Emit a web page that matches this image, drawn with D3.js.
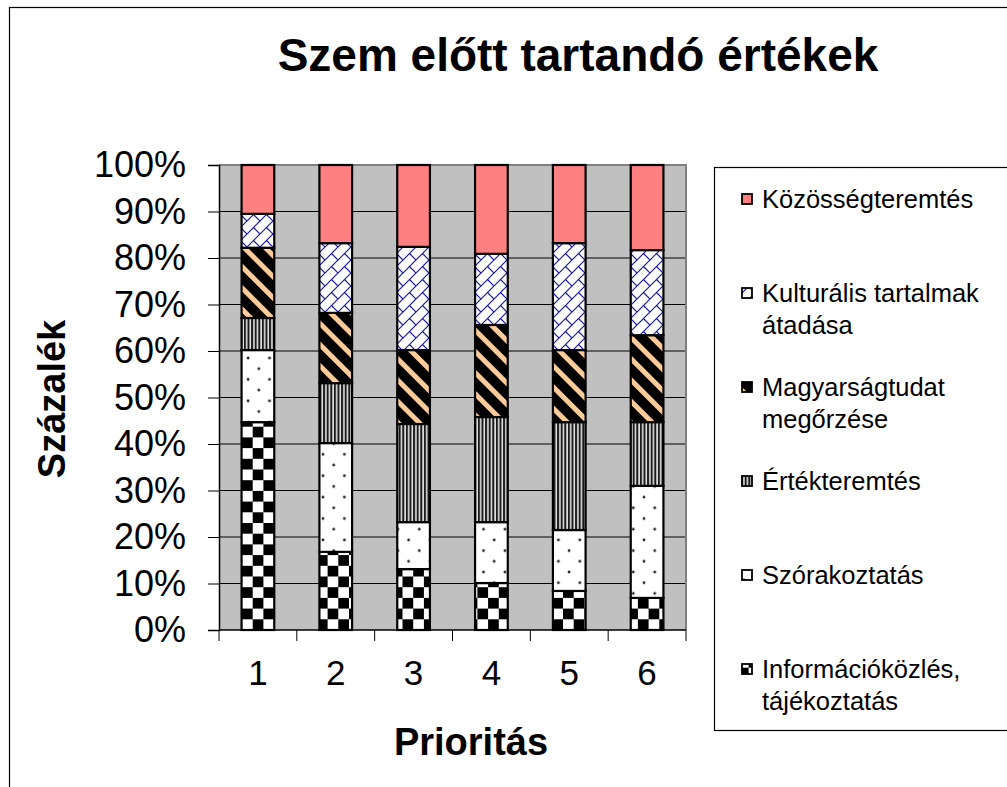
<!DOCTYPE html>
<html>
<head>
<meta charset="utf-8">
<script src="https://cdn.jsdelivr.net/npm/d3@7"></script>
<style>
html,body{margin:0;padding:0;background:#fff;}
svg{display:block;}
text{font-family:"Liberation Sans",Arial,sans-serif;}
</style>
</head>
<body>
<svg id="chart" width="1007" height="787"></svg>
<script>
// ---- data ----
const categories = ["1","2","3","4","5","6"];
const seriesNames = ["Információközlés, tájékoztatás","Szórakoztatás","Értékteremtés","Magyarságtudat megőrzése","Kulturális tartalmak átadása","Közösségteremtés"];
const informacio = [44.7,16.8,13.1,10.1,8.4,6.9];
const szorakoztatas = [15.5,23.4,10.1,13.1,13.1,24.1];
const ertekteremtes = [6.9,12.9,21.1,22.6,23.2,13.7];
const magyarsag = [15.1,15.1,15.9,19.8,15.5,18.7];
const kulturalis = [7.3,15.0,22.2,15.3,23.0,18.3];
const kozosseg = [10.5,16.8,17.6,19.1,16.8,18.3];
const yTicks = [0,0.1,0.2,0.3,0.4,0.5,0.6,0.7,0.8,0.9,1.0];
const legendLines = [["Közösségteremtés"],["Kulturális tartalmak","átadása"],["Magyarságtudat","megőrzése"],["Értékteremtés"],["Szórakoztatás"],["Információközlés,","tájékoztatás"]];
const legendOrder = [5,4,3,2,1,0];

const seriesValues = [informacio,szorakoztatas,ertekteremtes,magyarsag,kulturalis,kozosseg];
const keys = seriesNames;
const rows = categories.map((c,i)=>{const o={cat:c}; keys.forEach((k,j)=>o[k]=seriesValues[j][i]); return o;});

const svg = d3.select("#chart");
const defs = svg.append("defs");

// patterns
const patIds = ["p-info","p-szor","p-ert","p-magy","p-kult","p-koz"];
// checkerboard
(function(){
  const s=10.7;
  const p=defs.append("pattern").attr("id","p-info").attr("patternUnits","userSpaceOnUse").attr("width",2*s).attr("height",2*s).attr("x",242).attr("y",630);
  p.append("rect").attr("width",2*s).attr("height",2*s).attr("fill","#fff");
  p.append("rect").attr("x",0).attr("y",0).attr("width",s).attr("height",s).attr("fill","#000");
  p.append("rect").attr("x",s).attr("y",s).attr("width",s).attr("height",s).attr("fill","#000");
})();
// dots
(function(){
  const s=21.4;
  const p=defs.append("pattern").attr("id","p-szor").attr("patternUnits","userSpaceOnUse").attr("width",s).attr("height",s).attr("x",0).attr("y",3);
  p.append("rect").attr("width",s).attr("height",s).attr("fill","#fff");
  p.append("circle").attr("cx",2).attr("cy",2).attr("r",1.4).attr("fill","#222");
  p.append("circle").attr("cx",2+s/2).attr("cy",2+s/2).attr("r",1.4).attr("fill","#222");
})();
// vertical stripes
(function(){
  const w=3.6;
  const p=defs.append("pattern").attr("id","p-ert").attr("patternUnits","userSpaceOnUse").attr("width",w).attr("height",10);
  p.append("rect").attr("width",w).attr("height",10).attr("fill","#1a1a1a");
  p.append("rect").attr("x",1.2).attr("width",1.4).attr("height",10).attr("fill","#fff");
})();
// diagonal stripes black/orange
(function(){
  const s=15;
  const p=defs.append("pattern").attr("id","p-magy").attr("patternUnits","userSpaceOnUse").attr("width",s).attr("height",s).attr("patternTransform","rotate(45)");
  p.append("rect").attr("width",s).attr("height",s).attr("fill","#000");
  p.append("rect").attr("x",0).attr("y",0).attr("width",s).attr("height",5).attr("fill","#FFCC99");
})();
// diagonal brick
(function(){
  const s=13;
  const p=defs.append("pattern").attr("id","p-kult").attr("patternUnits","userSpaceOnUse").attr("width",s).attr("height",s);
  p.append("rect").attr("width",s).attr("height",s).attr("fill","#fff");
  p.append("path").attr("d",`M-1,${s+1} L${s+1},-1 M${s/2},${s/2} L${s},${s} M-1,1 L1,-1 M${s-1},${s+1} L${s+1},${s-1}`).attr("stroke","#1a1aa0").attr("stroke-width",1.2).attr("fill","none");
})();
defs.append("pattern").attr("id","p-koz").attr("patternUnits","userSpaceOnUse").attr("width",4).attr("height",4)
  .append("rect").attr("width",4).attr("height",4).attr("fill","#FF8080");

// outer chart border
svg.append("rect").attr("x",9.5).attr("y",7.5).attr("width",1100).attr("height",900).attr("fill","none").attr("stroke","#000").attr("stroke-width",1.2);

// plot geometry
const L=219, R=686, T=165, B=630;
const x = d3.scaleBand().domain(categories).range([L,R]).paddingInner(0.58).paddingOuter(0.29);
const xCat = d3.scaleBand().domain(categories).range([L,R]).padding(0);
const y = d3.scaleLinear().domain([0,1]).range([B,T]);

// plot area background
svg.append("rect").attr("x",L).attr("y",T).attr("width",R-L).attr("height",B-T).attr("fill","#C0C0C0");
// gridlines
svg.append("g").selectAll("line").data(yTicks.filter(d=>d>0 && d<1)).join("line")
  .attr("x1",L).attr("x2",R).attr("y1",d=>y(d)).attr("y2",d=>y(d)).attr("stroke","#000").attr("stroke-width",1);
// plot border top/right
svg.append("path").attr("d",`M${L},${T} L${R},${T} L${R},${B}`).attr("fill","none").attr("stroke","#808080").attr("stroke-width",2);

// stacked bars
const stack = d3.stack().keys(keys).offset(d3.stackOffsetExpand);
const stacked = stack(rows);
const layers = svg.append("g").selectAll("g").data(stacked).join("g")
  .attr("fill",(d,i)=>`url(#${patIds[i]})`);
layers.selectAll("rect").data(d=>d).join("rect")
  .attr("x",d=>x(d.data.cat))
  .attr("width",x.bandwidth())
  .attr("y",d=>y(d[1]))
  .attr("height",d=>y(d[0])-y(d[1]))
  .attr("stroke","#000").attr("stroke-width",2.2);

// y axis
const yAxis = d3.axisLeft(y).tickValues(yTicks).tickFormat(d3.format(".0%")).tickSize(11).tickPadding(22);
const gy = svg.append("g").attr("transform",`translate(${L},0)`).call(yAxis);
gy.select(".domain").attr("stroke","#000").attr("stroke-width",1.5);
gy.selectAll(".tick line").attr("stroke","#000");
gy.selectAll("text").attr("font-size",36).attr("fill","#000").attr("font-family","Liberation Sans, Arial, sans-serif");

// x axis
const xAxis = d3.axisBottom(x).tickSize(0).tickPadding(30);
const gx = svg.append("g").attr("transform",`translate(0,${B})`).call(xAxis);
gx.select(".domain").remove();
gx.selectAll("text").attr("font-size",35).attr("fill","#000").attr("font-family","Liberation Sans, Arial, sans-serif");
svg.append("line").attr("x1",L).attr("x2",R).attr("y1",B).attr("y2",B).attr("stroke","#000").attr("stroke-width",1.5);
svg.append("g").selectAll("line").data(categories.concat(["end"])).join("line")
  .attr("x1",(d,i)=> i<categories.length ? xCat(d) : R)
  .attr("x2",(d,i)=> i<categories.length ? xCat(d) : R)
  .attr("y1",B).attr("y2",B+11).attr("stroke","#000").attr("stroke-width",1);

// titles
svg.append("text").attr("x",578).attr("y",71).attr("text-anchor","middle").attr("font-size",46).attr("font-weight","bold").text("Szem előtt tartandó értékek");
svg.append("text").attr("x",471).attr("y",755).attr("text-anchor","middle").attr("font-size",38).attr("font-weight","bold").text("Prioritás");
svg.append("text").attr("transform","translate(65,399) rotate(-90)").attr("text-anchor","middle").attr("font-size",38).attr("font-weight","bold").text("Százalék");

// legend
svg.append("rect").attr("x",714.5).attr("y",167.5).attr("width",400).attr("height",563).attr("fill","#fff").attr("stroke","#000").attr("stroke-width",1.2);
const lg = svg.append("g").selectAll("g").data(legendOrder).join("g")
  .attr("transform",(d,i)=>`translate(742,${199+i*94})`);
lg.append("rect").attr("x",0).attr("y",-5).attr("width",10).attr("height",10)
  .attr("fill",d=>`url(#${patIds[d]})`).attr("stroke","#000").attr("stroke-width",1.8);
lg.each(function(d){
  const t=d3.select(this).append("text").attr("x",20).attr("y",9).attr("font-size",25.5).attr("fill","#000");
  legendLines[legendOrder.indexOf(d)].forEach((ln,j)=>{
    t.append("tspan").attr("x",20).attr("dy",j===0?0:32).text(ln);
  });
});
</script>
</body>
</html>
